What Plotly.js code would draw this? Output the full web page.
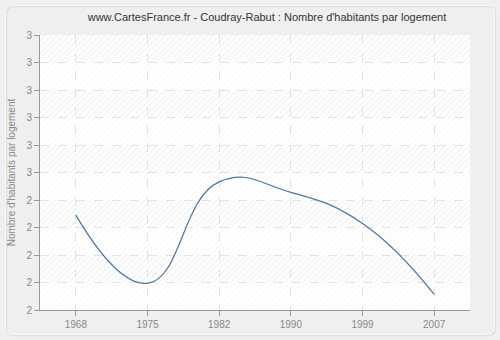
<!DOCTYPE html>
<html>
<head>
<meta charset="utf-8">
<script src="https://cdn.plot.ly/plotly-3.0.1.min.js"></script>
<style>html,body{margin:0;padding:0;background:#efefef;}#chart{width:500px;height:340px;}</style>
</head>
<body>
<div id="chart"></div>
<script>
var years = ["1968", "1975", "1982", "1990", "1999", "2007"];
var values = [2.345, 2.097, 2.466, 2.428, 2.315, 2.057];
var yTickVals = [2.0, 2.1, 2.2, 2.3, 2.4, 2.5, 2.6, 2.7, 2.8, 2.9, 3.0];
var yTickText = ["2", "2", "2", "2", "2", "3", "3", "3", "3", "3", "3"];

var W = 500, H = 340;
var L = 40, R = 30, T = 35, B = 30;
var pw = W - L - R, ph = H - T - B;

// hatched background with alternating bands (decoration)
function bgSvg() {
  var s = '<svg xmlns="http://www.w3.org/2000/svg" width="' + pw + '" height="' + ph + '">' +
    '<defs><pattern id="h" width="6" height="6" patternUnits="userSpaceOnUse">' +
    '<path d="M-1,7 L7,-1 M-1,1 L1,-1 M5,7 L7,5" stroke="#ececec" stroke-width="1"/></pattern></defs>' +
    '<rect width="' + pw + '" height="' + ph + '" fill="#ffffff"/>' +
    '<rect width="' + pw + '" height="' + ph + '" fill="url(#h)"/>';
  var n = yTickVals.length - 1;
  var bh = ph / n;
  for (var i = 1; i < n; i += 2) {
    s += '<rect x="0" y="' + (i * bh) + '" width="' + pw + '" height="' + bh + '" fill="#ffffff" fill-opacity="0.6"/>';
  }
  s += '</svg>';
  return 'data:image/svg+xml;base64,' + btoa(s);
}

function px2x(p) { return (p - L) / pw; }
function px2y(p) { return (H - B - p) / ph; }
function roundRect(x0, y0, x1, y1, r) {
  var X = px2x, Y = px2y;
  var rx = r / pw, ry = r / ph;
  var a = X(x0), b = X(x1), c = Y(y0), d = Y(y1);
  return 'M' + (a + rx) + ',' + c + ' L' + (b - rx) + ',' + c +
    ' Q' + b + ',' + c + ' ' + b + ',' + (c - ry) +
    ' L' + b + ',' + (d + ry) + ' Q' + b + ',' + d + ' ' + (b - rx) + ',' + d +
    ' L' + (a + rx) + ',' + d + ' Q' + a + ',' + d + ' ' + a + ',' + (d + ry) +
    ' L' + a + ',' + (c - ry) + ' Q' + a + ',' + c + ' ' + (a + rx) + ',' + c + ' Z';
}

var trace = {
  x: years,
  y: values,
  type: 'scatter',
  mode: 'lines',
  line: {color: '#4a72a6', width: 1.2, shape: 'spline', smoothing: 1.3},
  hoverinfo: 'x+y'
};

var layout = {
  width: W, height: H,
  margin: {l: L, r: R, t: T, b: B, pad: 0},
  paper_bgcolor: '#efefef',
  plot_bgcolor: 'rgba(0,0,0,0)',
  showlegend: false,
  font: {family: '"Liberation Sans", Arial, sans-serif', size: 10, color: '#888888'},
  title: {
    text: "www.CartesFrance.fr - Coudray-Rabut : Nombre d'habitants par logement",
    font: {family: '"Liberation Sans", Arial, sans-serif', size: 11, color: '#333333'},
    x: 267 / W, xref: 'container', xanchor: 'center',
    y: 1 - 17 / H, yref: 'container', yanchor: 'middle'
  },
  xaxis: {
    type: 'category',
    range: [-0.5, years.length - 0.5],
    showline: true, linecolor: '#999999', linewidth: 1,
    ticks: 'outside', ticklen: 5, tickcolor: '#999999',
    showgrid: true, gridcolor: '#e2e2e2', griddash: 'dash', gridwidth: 1,
    tickfont: {size: 10, color: '#888888'},
    zeroline: false, fixedrange: true
  },
  yaxis: {
    range: [2.0, 3.0],
    tickmode: 'array', tickvals: yTickVals, ticktext: yTickText,
    showline: true, linecolor: '#999999', linewidth: 1,
    ticks: 'outside', ticklen: 5, tickcolor: '#999999',
    showgrid: true, gridcolor: '#e2e2e2', griddash: 'dash', gridwidth: 1,
    tickfont: {size: 10, color: '#888888'},
    zeroline: false, fixedrange: true,
    title: {text: "Nombre d'habitants par logement", font: {size: 10, color: '#888888'}, standoff: 8}
  },
  images: [{
    source: bgSvg(), xref: 'paper', yref: 'paper', x: 0, y: 1, sizex: 1, sizey: 1,
    xanchor: 'left', yanchor: 'top', sizing: 'stretch', layer: 'below'
  }],
  shapes: [
    {type: 'path', xref: 'paper', yref: 'paper', path: roundRect(6.5, 6.5, 495.5, 335.5, 8), line: {color: '#dddddd', width: 1.5}, layer: 'below'},
    {type: 'path', xref: 'paper', yref: 'paper', path: roundRect(5.5, 5.5, 494.5, 334.5, 8), line: {color: '#f8f8f8', width: 1}, layer: 'below'}
  ]
};

Plotly.newPlot('chart', [trace], layout, {displayModeBar: false, staticPlot: true});
</script>
</body>
</html>
